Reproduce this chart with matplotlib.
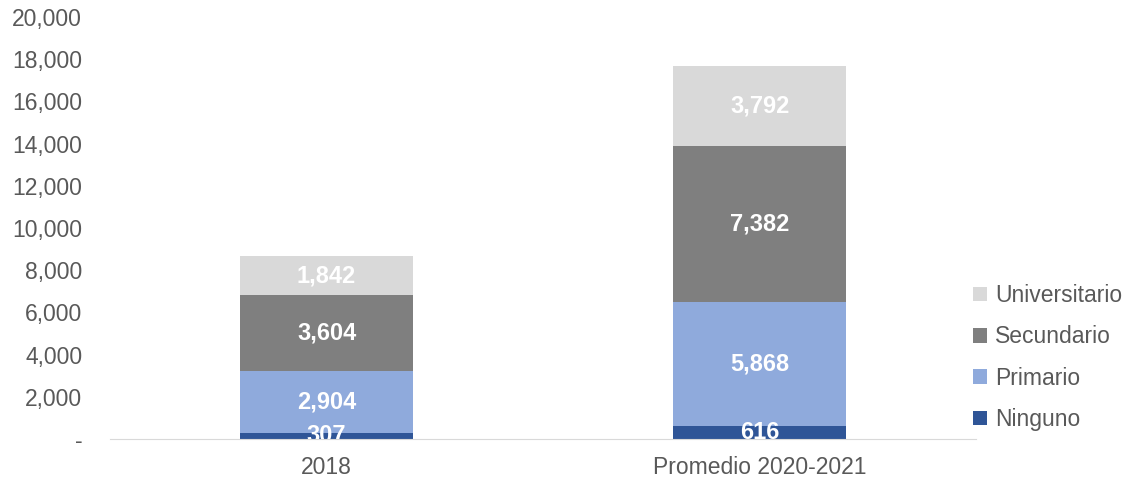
import matplotlib.pyplot as plt
from matplotlib.ticker import FuncFormatter

plt.rcParams['font.family'] = ['Liberation Sans', 'DejaVu Sans']

categories = ["2018", "Promedio 2020-2021"]
series_names = ["Ninguno", "Primario", "Secundario", "Universitario"]
ninguno = [307, 616]
primario = [2904, 5868]
secundario = [3604, 7382]
universitario = [1842, 3792]
colors = ["#2F5597", "#8FAADC", "#7F7F7F", "#D9D9D9"]

fig = plt.figure(figsize=(11.28, 4.79), dpi=100)
ax = fig.add_axes([0.0975, 0.0835, 0.768, 0.881])

x = range(len(categories))
bottom = [0, 0]
handles = []
for name, vals, c in zip(series_names, [ninguno, primario, secundario, universitario], colors):
    bars = ax.bar(x, vals, 0.4, bottom=bottom, color=c, label=name)
    handles.append(bars)
    for xi, v, b in zip(x, vals, bottom):
        ax.text(xi, b + v / 2, f"{v:,}", ha='center', va='center', color='white',
                fontsize=17, fontweight='bold', clip_on=True)
    bottom = [b + v for b, v in zip(bottom, vals)]

ax.set_xlim(-0.5, 1.5)
ax.set_ylim(0, 20000)
ax.set_yticks(range(0, 20001, 2000))
ax.yaxis.set_major_formatter(FuncFormatter(lambda v, p: "-" if v == 0 else f"{int(v):,}"))
ax.set_xticks(list(x))
ax.set_xticklabels(categories)
ax.tick_params(axis='both', length=0, labelsize=16.5, colors='#595959')
ax.tick_params(axis='y', pad=20)
ax.tick_params(axis='x', pad=12)
for s in ['top', 'right', 'left']:
    ax.spines[s].set_visible(False)
ax.spines['bottom'].set_color('#D9D9D9')

leg = fig.legend(handles[::-1], series_names[::-1], loc='lower left',
                 bbox_to_anchor=(0.8626, 0.1), frameon=False, fontsize=16.5,
                 borderpad=0, borderaxespad=0,
                 handlelength=0.6, handleheight=0.6, handletextpad=0.35,
                 labelspacing=0.8, labelcolor='#595959')

fig.savefig("out.png", dpi=100)
